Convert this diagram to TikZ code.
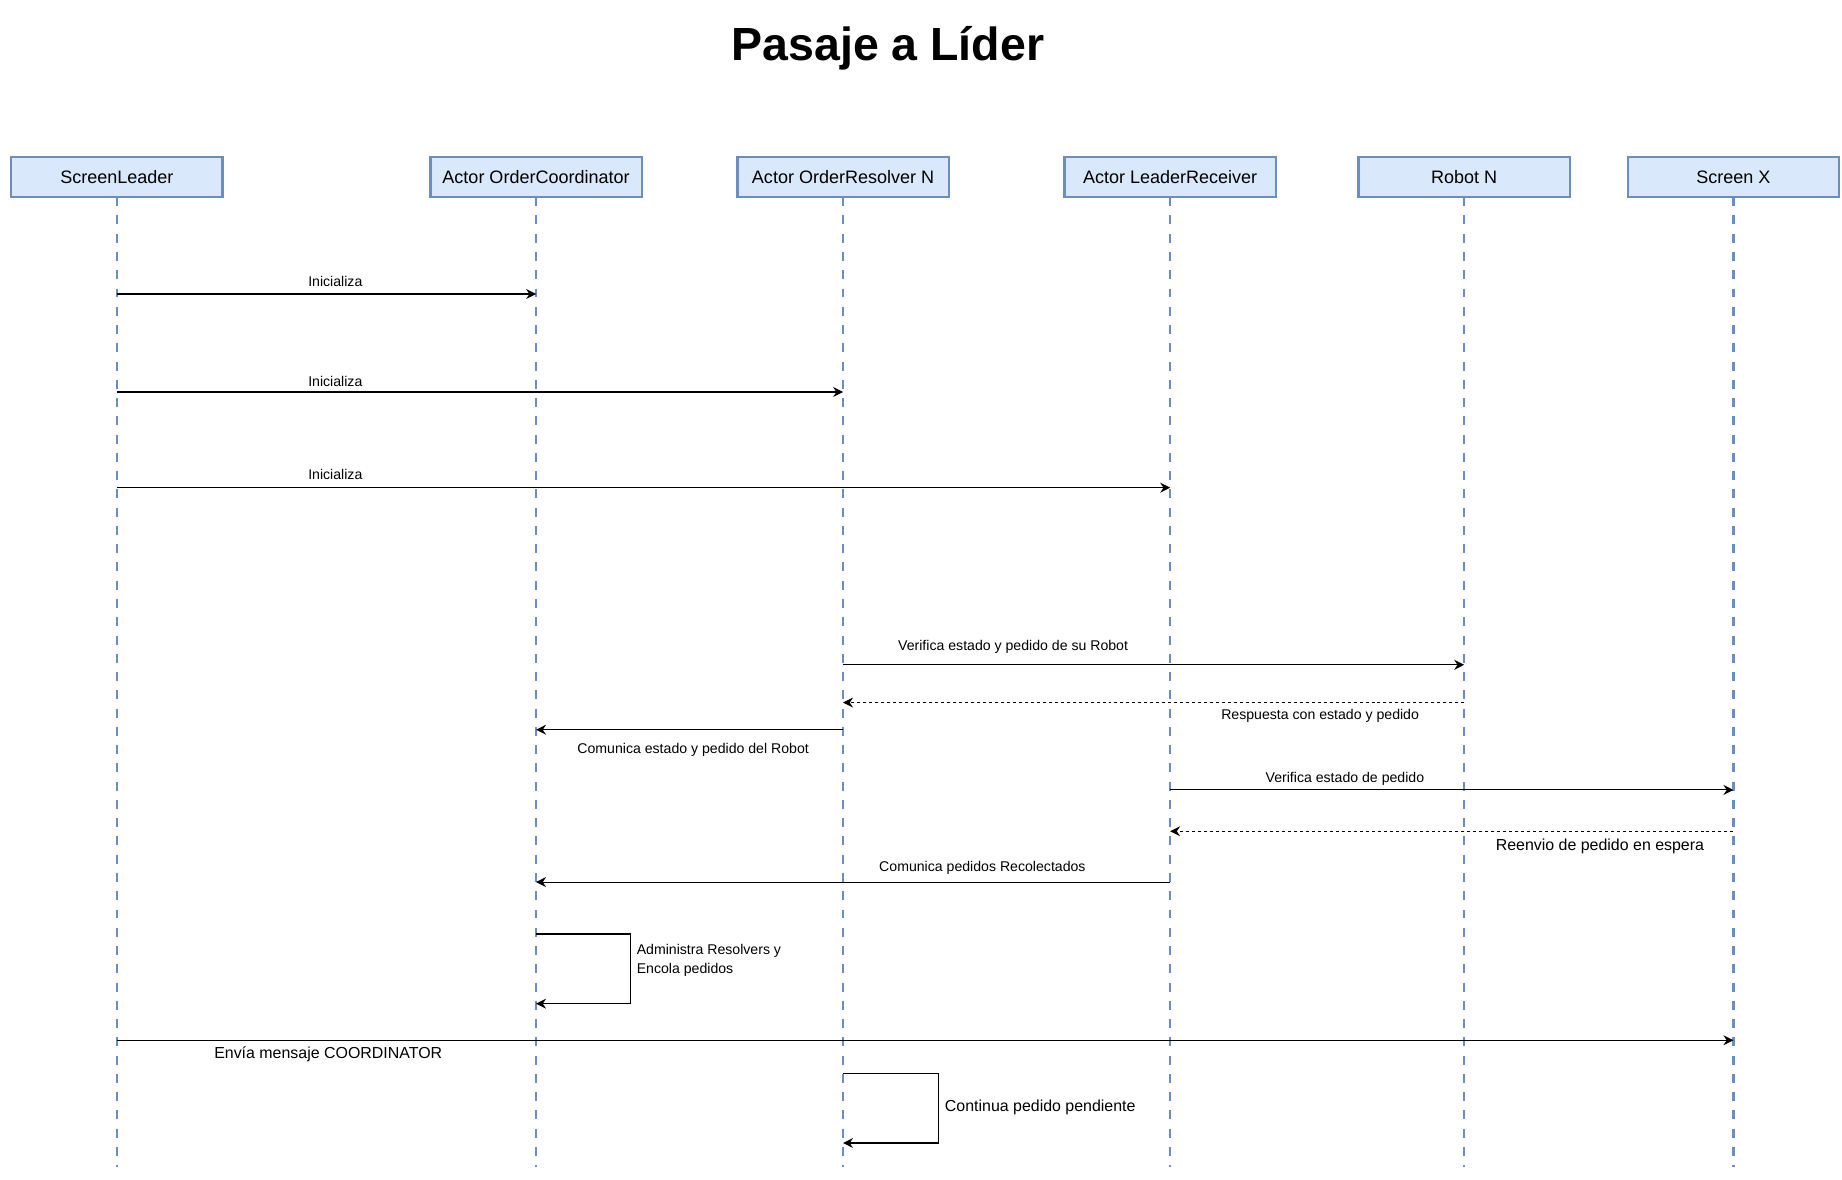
\documentclass[tikz,border=0pt]{standalone}
\usepackage{fontspec}
\setmainfont{Liberation Sans}
\usetikzlibrary{arrows.meta}
\definecolor{headfill}{HTML}{DAE8FC}
\definecolor{headline}{HTML}{6C8EBF}
\tikzset{%
	lifehead/.style={
		draw=headline,
		fill=headfill,
		line width=1.4pt,
		minimum width=4.475cm,
		minimum height=0.85cm,
		inner sep=0pt,
		font=\fontsize{10.85}{13}\selectfont
	},
	lifeline/.style={
		draw=headline,
		line width=1.5pt,
		dash pattern=on 5.4pt off 5.6pt
	},
	msg/.style={-{Stealth[length=6pt,width=6pt,inset=2pt]}, line width=0.65pt},
	reply/.style={msg, dash pattern=on 1.8pt off 1.8pt},
	lbl/.style={font=\fontsize{8.5}{11.3}\selectfont, inner sep=0pt},
	biglbl/.style={font=\fontsize{9.6}{11.5}\selectfont, inner sep=0pt},
}
\begin{document}
\begin{tikzpicture}[x=0.025cm, y=-0.025cm]
			\useasboundingbox (0,0) rectangle (1560,998.5);
			
			% title
			\node[font=\bfseries\fontsize{28}{34}\selectfont] (title) at (752,41) {Pasaje a Líder};
			
			% lifelines
			\coordinate (sl end) at (99,988);
			\coordinate (oc end) at (454,988);
			\coordinate (orr end) at (714,988);
			\coordinate (lr end) at (991,988);
			\coordinate (rob end) at (1240,988);
			\coordinate (sx end) at (1468,988);
			\draw[lifeline] (99,167) -- (sl end);
			\draw[lifeline] (454,167) -- (oc end);
			\draw[lifeline] (714,167) -- (orr end);
			\draw[lifeline] (991,167) -- (lr end);
			\draw[lifeline] (1240,167) -- (rob end);
			\draw[lifeline] (1468,167) -- (sx end);
			
			\node[lifehead] (sl) at (99,150) {ScreenLeader};
			\node[lifehead] (oc) at (454,150) {Actor OrderCoordinator};
			\node[lifehead] (orr) at (714,150) {Actor OrderResolver N};
			\node[lifehead] (lr) at (991,150) {Actor LeaderReceiver};
			\node[lifehead] (rob) at (1240,150) {Robot N};
			\node[lifehead] (sx) at (1468,150) {Screen X};
			
			% message heights
			\coordinate (m1) at (0,249);
			\coordinate (m2) at (0,332);
			\coordinate (m3) at (0,413);
			\coordinate (m4) at (0,563);
			\coordinate (m5) at (0,595);
			\coordinate (m6) at (0,618);
			\coordinate (m7) at (0,669);
			\coordinate (m8) at (0,704);
			\coordinate (m9) at (0,747);
			\coordinate (m10) at (0,881);
			
			\draw[msg] (sl |- m1) -- (oc |- m1);
			\node[lbl] (l1) at (284,238) {Inicializa};
			
			\draw[msg] (sl |- m2) -- (orr |- m2);
			\node[lbl] (l2) at (284,323) {Inicializa};
			
			\draw[msg] (sl |- m3) -- (lr |- m3);
			\node[lbl] (l3) at (284,402) {Inicializa};
			
			\draw[msg] (orr |- m4) -- (rob |- m4);
			\node[lbl] (l4) at (858,548) {Verifica estado y pedido de su Robot};
			
			\draw[reply] (rob |- m5) -- (orr |- m5);
			\node[lbl] (l5) at (1118,606) {Respuesta con estado y pedido};
			
			\draw[msg] (orr |- m6) -- (oc |- m6);
			\node[lbl] (l6) at (587,635) {Comunica estado y pedido del Robot};
			
			\draw[msg] (lr |- m7) -- (sx |- m7);
			\node[lbl] (l7) at (1139,660) {Verifica estado de pedido};
			
			\draw[reply] (sx |- m8) -- (lr |- m8);
			\node[biglbl] (l8) at (1355,717) {Reenvio de pedido en espera};
			
			\draw[msg] (lr |- m9) -- (oc |- m9);
			\node[lbl] (l9) at (832,735) {Comunica pedidos Recolectados};
			
			% self message on the coordinator
			\coordinate (s1a) at (534,791);
			\coordinate (s1b) at (534,850);
			\draw[msg] (oc |- s1a) -- (s1a) -- (s1b) -- (oc |- s1b);
			\node[lbl, anchor=west, align=left] (l10) at (539,813) {Administra Resolvers y\\Encola pedidos};
			
			\draw[msg] (sl |- m10) -- (sx |- m10);
			\node[biglbl] (l11) at (278,893) {Envía mensaje COORDINATOR};
			
			% self message on the resolver
			\coordinate (s2a) at (795,909);
			\coordinate (s2b) at (795,968);
			\draw[msg] (orr |- s2a) -- (s2a) -- (s2b) -- (orr |- s2b);
			\node[biglbl, anchor=west] (l12) at (800,938) {Continua pedido pendiente};
		\end{tikzpicture}
\end{document}
